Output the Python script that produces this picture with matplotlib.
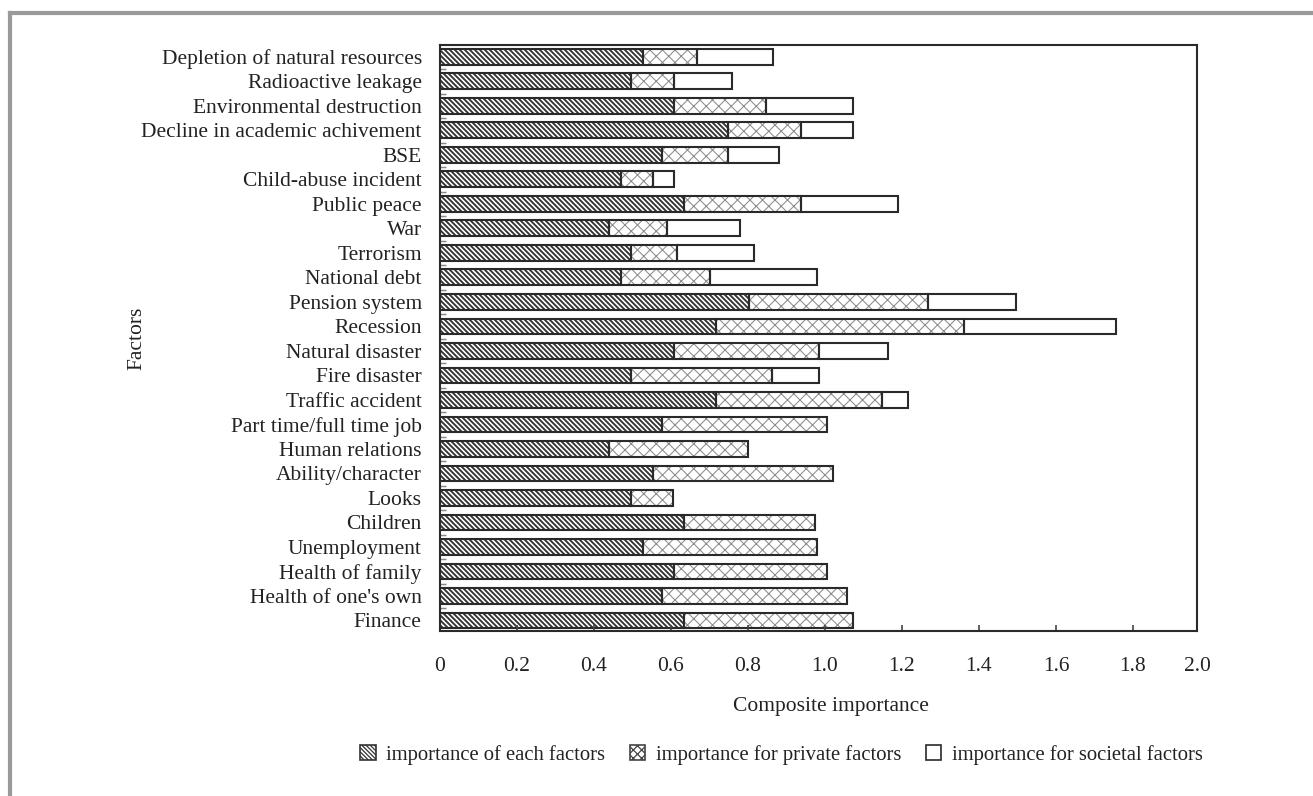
import matplotlib
matplotlib.use('Agg')
import matplotlib.pyplot as plt
from matplotlib.patches import Patch
from matplotlib.lines import Line2D
import numpy as np

# ---------------- data (bottom to top) ----------------
factors = ["Finance", "Health of one's own", "Health of family", "Unemployment",
           "Children", "Looks", "Ability/character", "Human relations",
           "Part time/full time job", "Traffic accident", "Fire disaster",
           "Natural disaster", "Recession", "Pension system", "National debt",
           "Terrorism", "War", "Public peace", "Child-abuse incident", "BSE",
           "Decline in academic achivement", "Environmental destruction",
           "Radioactive leakage", "Depletion of natural resources"]

each_factor = [0.635, 0.578, 0.609, 0.527, 0.635, 0.497, 0.553, 0.441, 0.578,
               0.718, 0.497, 0.609, 0.718, 0.803, 0.471, 0.497, 0.441, 0.635,
               0.471, 0.578, 0.748, 0.609, 0.497, 0.527]
private_factors = [0.437, 0.479, 0.396, 0.452, 0.340, 0.108, 0.467, 0.359, 0.427,
                   0.430, 0.365, 0.376, 0.642, 0.464, 0.231, 0.119, 0.149, 0.303,
                   0.082, 0.170, 0.190, 0.238, 0.112, 0.141]
societal_factors = [0, 0, 0, 0, 0, 0, 0, 0, 0,
                    0.069, 0.123, 0.180, 0.397, 0.228, 0.279, 0.200, 0.190, 0.253,
                    0.056, 0.134, 0.134, 0.225, 0.151, 0.198]

series_labels = ["importance of each factors", "importance for private factors",
                 "importance for societal factors"]
xtick_values = [0, 0.2, 0.4, 0.6, 0.8, 1.0, 1.2, 1.4, 1.6, 1.8]
xtick_labels = ["0", "0.2", "0.4", "0.6", "0.8", "1.0", "1.2", "1.4", "1.6", "1.8", "2.0"]
x_max = 1.966

# ---------------- style ----------------
DPI = 150
W, H = 1313, 796
FS = 10.3
LFS = 9.9
plt.rcParams['font.family'] = ['Liberation Serif', 'DejaVu Serif']
plt.rcParams['font.size'] = FS
TXT = '#222222'
EDGE = '#2a2a2a'
DIAG = '\\' * 10
CROSS = 'xxxx'

fig = plt.figure(figsize=(W / DPI, H / DPI), dpi=DPI)
fig.patch.set_facecolor('white')
ax = fig.add_axes([439.5 / W, 1 - 630.5 / H, (1197 - 439.5) / W, (630.5 - 45) / H])

y = np.arange(len(factors))
each = np.array(each_factor)
priv = np.array(private_factors)
soc = np.array(societal_factors)
h = 0.64


def set_hlw(bars, lw):
    for p in bars:
        if hasattr(p, 'set_hatch_linewidth'):
            p.set_hatch_linewidth(lw)


plt.rcParams['hatch.linewidth'] = 0.9
b1 = ax.barh(y, each, height=h, color='white', edgecolor='#333333',
             hatch=DIAG, linewidth=0)
set_hlw(b1, 0.9)
plt.rcParams['hatch.linewidth'] = 0.5
b2 = ax.barh(y, priv, left=each, height=h, color='white', edgecolor='#8c8c8c',
             hatch=CROSS, linewidth=0)
set_hlw(b2, 0.5)
mask = soc > 0
ax.barh(y[mask], soc[mask], left=(each + priv)[mask], height=h, color='white',
        edgecolor=EDGE, linewidth=1.0)
ax.barh(y, each, height=h, fill=False, edgecolor=EDGE, linewidth=1.0)
ax.barh(y, priv, left=each, height=h, fill=False, edgecolor=EDGE, linewidth=1.0)

ax.set_xlim(0, x_max)
ax.set_ylim(-0.41, len(factors) - 0.52)

ax.set_xticks(xtick_values + [x_max])
ax.set_xticklabels(xtick_labels, color=TXT, fontsize=FS)
ax.tick_params(axis='x', direction='in', length=3, width=0.8, color='#444444', pad=12.5)

ax.set_yticks(y[:-1] + 0.5)
ax.set_yticklabels([])
ax.tick_params(axis='y', which='major', direction='in', length=3, width=0.7,
               color='#888888')
ax.set_yticks(y, minor=True)
ax.set_yticklabels(factors, minor=True, color=TXT, fontsize=FS)
ax.tick_params(axis='y', which='minor', length=0, pad=8.5)

for s in ax.spines.values():
    s.set_color(EDGE)
    s.set_linewidth(1.0)

fig.text(831 / W, 1 - 706 / H, "Composite importance", ha='center', va='center',
         color=TXT, fontsize=FS)
fig.text(137 / W, 1 - 338 / H, "Factors", ha='center', va='center',
         rotation=90, color=TXT, fontsize=FS)

# legend
plt.rcParams['hatch.linewidth'] = 0.6
handles = [Patch(facecolor='white', edgecolor='#333333', hatch='\\' * 12, linewidth=0.8),
           Patch(facecolor='white', edgecolor='#444444', hatch='xxxxxx', linewidth=0.8),
           Patch(facecolor='white', edgecolor=EDGE, linewidth=0.8)]
fig.legend(handles, series_labels, loc='center', bbox_to_anchor=(781.5 / W, 1 - 755 / H),
           ncol=3, frameon=False, handlelength=0.75, handleheight=0.75,
           handletextpad=0.5, columnspacing=1.2, fontsize=LFS, labelcolor=TXT)

# outer gray frame
fig.add_artist(Line2D([10 / W, 10 / W], [0, 1 - 13 / H], transform=fig.transFigure,
                      color='#9a9a9a', linewidth=2.0, solid_capstyle='projecting'))
fig.add_artist(Line2D([10 / W, 1.0], [1 - 13 / H, 1 - 13 / H], transform=fig.transFigure,
                      color='#9a9a9a', linewidth=2.0, solid_capstyle='projecting'))

fig.savefig('out.png', dpi=DPI, facecolor='white')
